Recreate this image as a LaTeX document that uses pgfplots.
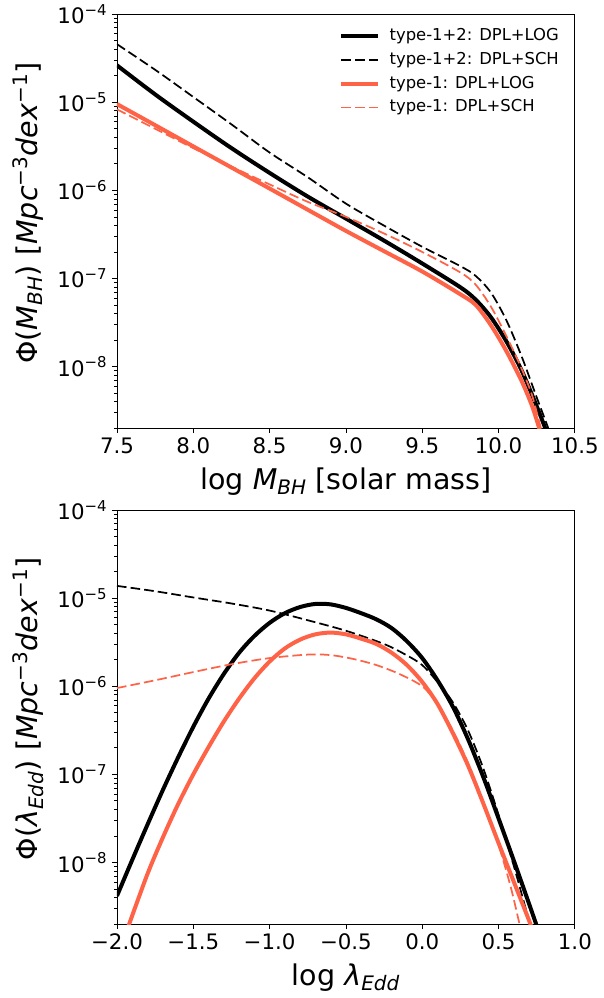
\documentclass[border=0pt]{standalone}
\usepackage{fontspec}
\setmainfont{DejaVu Sans}
\usepackage{pgfplots}
\pgfplotsset{compat=1.18}
\definecolor{tomato}{RGB}{255,99,71}
\begin{document}
\begin{tikzpicture}
\begin{axis}[
  scale only axis, width=343.5pt, height=310.5pt,
  ymode=log, ymin=2e-9, ymax=1e-4,
  ytick={1e-8,1e-7,1e-6,1e-5,1e-4},
  yticklabels={10\textsuperscript{−8},10\textsuperscript{−7},10\textsuperscript{−6},10\textsuperscript{−5},10\textsuperscript{−4}},
  minor ytick={2e-9,3e-9,4e-9,5e-9,6e-9,7e-9,8e-9,9e-9,2e-8,3e-8,4e-8,5e-8,6e-8,7e-8,8e-8,9e-8,2e-7,3e-7,4e-7,5e-7,6e-7,7e-7,8e-7,9e-7,2e-6,3e-6,4e-6,5e-6,6e-6,7e-6,8e-6,9e-6,2e-5,3e-5,4e-5,5e-5,6e-5,7e-5,8e-5,9e-5},
  tick align=outside, xtick pos=left, ytick pos=left,
  major tick length=3.75pt, minor tick length=2.1pt,
  every tick/.append style={black, line width=0.6pt},
  axis line style={line width=0.6pt},
  tick label style={font=\fontsize{16}{19}\selectfont},
  every axis label/.append style={font=\fontsize{21.4}{25}\selectfont},
  xlabel style={at={(axis description cs:0.5,-0.148)}, anchor=base},
  ylabel style={at={(axis description cs:-0.194,0.52)}, anchor=center},
  xmin=7.5, xmax=10.5,
  xtick={7.5,8,8.5,9,9.5,10,10.5},
  xticklabels={7.5,8.0,8.5,9.0,9.5,10.0,10.5},
  xlabel={log \textit{M}\textsubscript{\textit{BH}} [solar mass]},
  ylabel={Φ(\textit{M}\textsubscript{\textit{BH}}) [\textit{Mpc}\textsuperscript{−3}\textit{dex}\textsuperscript{−1}]},
  legend image code/.code={\draw[#1] (0pt,0pt) -- (27.75pt,0pt);},
  legend style={at={(0.965,0.965)}, anchor=north east, draw=none, fill=none,
    inner sep=0pt, outer sep=0pt, row sep=6.3pt, column sep=7pt,
    font=\fontsize{12.3}{14}\selectfont,
    nodes={inner sep=0pt, text height=9pt, text depth=2.5pt}},
  legend cell align=left,
]
\addplot[black, line width=3pt, smooth] coordinates {
(7.5,2.63e-5) (7.75,1.23e-5) (8.0,6.03e-6) (8.25,3.02e-6) (8.5,1.58e-6)
(8.75,8.51e-7) (9.0,4.79e-7) (9.25,2.69e-7) (9.5,1.48e-7) (9.75,7.94e-8)
(9.85,5.75e-8) (9.95,3.63e-8) (10.05,1.95e-8) (10.15,9.12e-9) (10.25,3.55e-9)
(10.31,1.91e-9) (10.33,1.51e-9)};
\addplot[black, line width=1.3pt, dash pattern=on 7.2pt off 3.1pt, smooth] coordinates {
(7.5,4.57e-5) (7.75,2.34e-5) (8.0,1.15e-5) (8.25,5.62e-6) (8.5,2.69e-6)
(8.75,1.41e-6) (9.0,7.08e-7) (9.25,3.98e-7) (9.5,2.29e-7) (9.75,1.38e-7)
(9.85,1.07e-7) (9.95,6.92e-8) (10.05,3.39e-8) (10.15,1.32e-8) (10.25,4.47e-9)
(10.33,1.91e-9) (10.35,1.51e-9)};
\addplot[tomato, line width=3pt, smooth] coordinates {
(7.5,9.55e-6) (7.75,5.50e-6) (8.0,3.16e-6) (8.25,1.82e-6) (8.5,1.05e-6)
(8.75,6.03e-7) (9.0,3.47e-7) (9.25,2.04e-7) (9.5,1.20e-7) (9.75,6.61e-8)
(9.85,5.01e-8) (9.95,2.95e-8) (10.05,1.51e-8) (10.15,6.92e-9) (10.22,3.55e-9)
(10.27,1.91e-9) (10.29,1.51e-9)};
\addplot[tomato, line width=1.3pt, dash pattern=on 7.2pt off 3.1pt, smooth] coordinates {
(7.5,8.32e-6) (7.75,5.01e-6) (8.0,3.02e-6) (8.25,1.86e-6) (8.5,1.17e-6)
(8.75,7.41e-7) (9.0,5.01e-7) (9.25,3.24e-7) (9.5,2.00e-7) (9.75,1.17e-7)
(9.85,8.51e-8) (9.95,4.79e-8) (10.05,2.24e-8) (10.15,9.55e-9) (10.22,4.68e-9)
(10.28,1.91e-9) (10.30,1.51e-9)};
\legend{type-1+2: DPL+LOG, type-1+2: DPL+SCH, type-1: DPL+LOG, type-1: DPL+SCH}
\end{axis}
\begin{axis}[
  at={(0pt,-372pt)}, anchor=south west,
  scale only axis, width=343.5pt, height=310.5pt,
  ymode=log, ymin=2e-9, ymax=1e-4,
  ytick={1e-8,1e-7,1e-6,1e-5,1e-4},
  yticklabels={10\textsuperscript{−8},10\textsuperscript{−7},10\textsuperscript{−6},10\textsuperscript{−5},10\textsuperscript{−4}},
  minor ytick={2e-9,3e-9,4e-9,5e-9,6e-9,7e-9,8e-9,9e-9,2e-8,3e-8,4e-8,5e-8,6e-8,7e-8,8e-8,9e-8,2e-7,3e-7,4e-7,5e-7,6e-7,7e-7,8e-7,9e-7,2e-6,3e-6,4e-6,5e-6,6e-6,7e-6,8e-6,9e-6,2e-5,3e-5,4e-5,5e-5,6e-5,7e-5,8e-5,9e-5},
  tick align=outside, xtick pos=left, ytick pos=left,
  major tick length=3.75pt, minor tick length=2.1pt,
  every tick/.append style={black, line width=0.6pt},
  axis line style={line width=0.6pt},
  tick label style={font=\fontsize{16}{19}\selectfont},
  every axis label/.append style={font=\fontsize{21.4}{25}\selectfont},
  xlabel style={at={(axis description cs:0.5,-0.148)}, anchor=base},
  ylabel style={at={(axis description cs:-0.194,0.52)}, anchor=center},
  xmin=-2, xmax=1,
  xtick={-2,-1.5,-1,-0.5,0,0.5,1},
  xticklabels={−2.0,−1.5,−1.0,−0.5,0.0,0.5,1.0},
  xlabel={log \textit{λ}\textsubscript{\textit{Edd}}},
  ylabel={Φ(\textit{λ}\textsubscript{\textit{Edd}}) [\textit{Mpc}\textsuperscript{−3}\textit{dex}\textsuperscript{−1}]},
]
\addplot[black, line width=3pt, smooth] coordinates {
(-2.0,4.17e-9) (-1.9,1.07e-8) (-1.8,2.69e-8) (-1.7,6.61e-8) (-1.6,1.55e-7)
(-1.5,3.47e-7) (-1.4,7.24e-7) (-1.3,1.38e-6) (-1.2,2.40e-6) (-1.1,3.72e-6)
(-1.0,5.25e-6) (-0.9,6.76e-6) (-0.8,7.94e-6) (-0.7,8.61e-6) (-0.6,8.51e-6)
(-0.5,7.76e-6) (-0.4,6.76e-6) (-0.3,5.75e-6) (-0.2,4.57e-6) (-0.1,3.24e-6)
(0.0,2.09e-6) (0.1,1.17e-6) (0.2,5.89e-7) (0.3,2.51e-7) (0.4,9.33e-8)
(0.5,3.16e-8) (0.6,1.05e-8) (0.7,3.39e-9) (0.75,1.91e-9) (0.77,1.51e-9)};
\addplot[black, line width=1.3pt, dash pattern=on 7.2pt off 3.1pt, smooth] coordinates {
(-2.0,1.38e-5) (-1.75,1.20e-5) (-1.5,1.02e-5) (-1.25,8.71e-6) (-1.0,7.24e-6)
(-0.75,5.62e-6) (-0.5,4.27e-6) (-0.25,3.02e-6) (-0.1,2.24e-6) (0.0,1.74e-6)
(0.1,1.12e-6) (0.2,6.61e-7) (0.3,3.16e-7) (0.4,1.17e-7) (0.5,3.47e-8)
(0.6,9.12e-9) (0.65,4.47e-9) (0.7,2.19e-9) (0.72,1.66e-9)};
\addplot[tomato, line width=3pt, smooth] coordinates {
(-1.94,1.58e-9) (-1.92,2.00e-9) (-1.8,7.41e-9) (-1.7,1.91e-8) (-1.6,4.57e-8)
(-1.5,1.00e-7) (-1.4,2.04e-7) (-1.3,3.98e-7) (-1.2,7.24e-7) (-1.1,1.23e-6)
(-1.0,1.91e-6) (-0.9,2.69e-6) (-0.8,3.39e-6) (-0.7,3.89e-6) (-0.6,4.07e-6)
(-0.5,3.89e-6) (-0.4,3.47e-6) (-0.3,3.02e-6) (-0.2,2.40e-6) (-0.1,1.74e-6)
(0.0,1.12e-6) (0.1,6.31e-7) (0.2,2.95e-7) (0.3,1.26e-7) (0.4,4.68e-8)
(0.5,1.66e-8) (0.6,6.03e-9) (0.7,2.19e-9) (0.72,1.74e-9)};
\addplot[tomato, line width=1.3pt, dash pattern=on 7.2pt off 3.1pt, smooth] coordinates {
(-2.0,9.55e-7) (-1.75,1.17e-6) (-1.5,1.45e-6) (-1.25,1.78e-6) (-1.0,2.09e-6)
(-0.75,2.29e-6) (-0.6,2.26e-6) (-0.45,2.04e-6) (-0.3,1.74e-6) (-0.15,1.38e-6)
(0.0,1.00e-6) (0.1,6.31e-7) (0.2,3.16e-7) (0.3,1.35e-7) (0.4,4.90e-8)
(0.5,1.58e-8) (0.58,5.25e-9) (0.64,1.91e-9) (0.66,1.41e-9)};
\end{axis}
\path[use as bounding box] (-87.75pt,-427.5pt) rectangle (362.25pt,321pt);
\end{tikzpicture}
\end{document}
